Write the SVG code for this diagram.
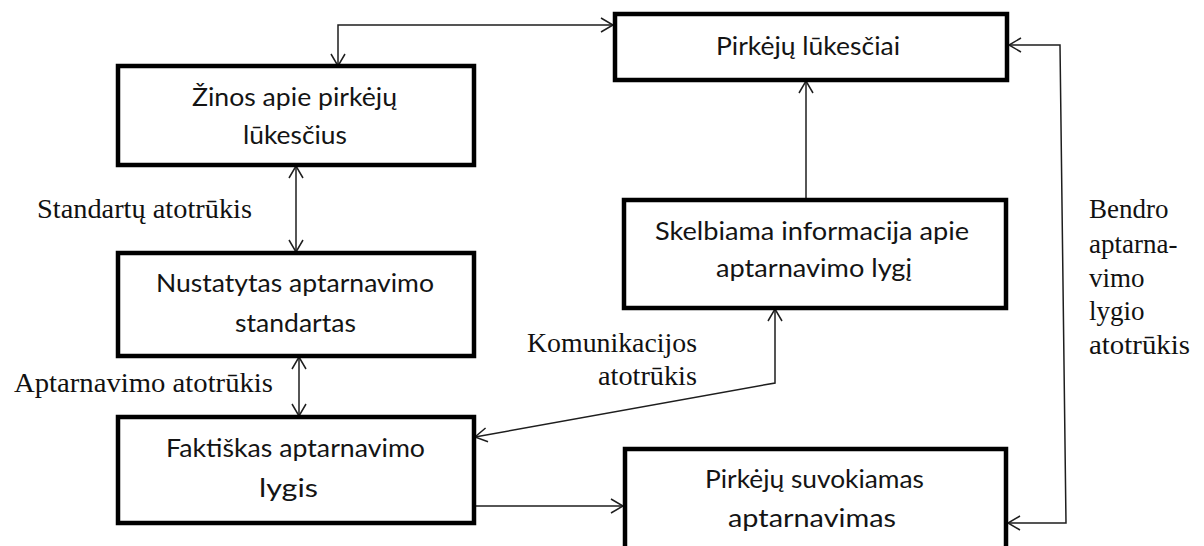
<svg xmlns="http://www.w3.org/2000/svg" width="1204" height="546" viewBox="0 0 1204 546">
  <style>
    .box { fill: #ffffff; stroke: #000000; stroke-width: 4.5; }
    .btxt { font-family: "Lato", "Noto Sans", sans-serif; font-size: 25px; fill: #141414; text-anchor: start; }
    .lbl { font-family: "Liberation Serif", "Times New Roman", serif; font-size: 27px; fill: #111111; }
    .conn { fill: none; stroke: #1e1e1e; stroke-width: 1.5; }
  </style>
  <defs>
    <marker id="arr" markerUnits="userSpaceOnUse" markerWidth="16" markerHeight="18" refX="13" refY="8" orient="auto-start-reverse">
      <path d="M1,1 L13,8 L1,15" fill="none" stroke="#1e1e1e" stroke-width="1.5"/>
    </marker>
  </defs>
  <rect width="1204" height="546" fill="#ffffff"/>

  <!-- connectors -->
  <g id="connectors">
    <path class="conn" d="M338,66 V25 H613" marker-start="url(#arr)" marker-end="url(#arr)"/>
    <path class="conn" d="M296,166 V252" marker-start="url(#arr)" marker-end="url(#arr)"/>
    <path class="conn" d="M299,357 V416" marker-start="url(#arr)" marker-end="url(#arr)"/>
    <path class="conn" d="M806,199 V81" marker-end="url(#arr)"/>
    <path class="conn" d="M475,437 L775,383 V309" marker-start="url(#arr)" marker-end="url(#arr)"/>
    <path class="conn" d="M475,506 H623" marker-end="url(#arr)"/>
    <path class="conn" d="M1008,523 H1066 L1060,45 H1009" marker-start="url(#arr)" marker-end="url(#arr)"/>
  </g>

  <!-- gap labels -->
  <g id="labels">
    <text class="lbl" x="37" y="218" textLength="215" lengthAdjust="spacingAndGlyphs">Standartų atotrūkis</text>
    <text class="lbl" x="14" y="392" textLength="259" lengthAdjust="spacingAndGlyphs">Aptarnavimo atotrūkis</text>
    <text class="lbl" x="527" y="352" textLength="170" lengthAdjust="spacingAndGlyphs">Komunikacijos</text>
    <text class="lbl" x="598" y="385" textLength="99" lengthAdjust="spacingAndGlyphs">atotrūkis</text>
    <text class="lbl" x="1089" y="218">Bendro</text>
    <text class="lbl" x="1089" y="253">aptarna-</text>
    <text class="lbl" x="1089" y="287">vimo</text>
    <text class="lbl" x="1089" y="320">lygio</text>
    <text class="lbl" x="1089" y="354" textLength="101" lengthAdjust="spacingAndGlyphs">atotrūkis</text>
  </g>

  <g id="node-zinos">
    <rect class="box" x="118" y="66" width="356" height="99"/>
    <text class="btxt" x="192" y="106" textLength="205" lengthAdjust="spacingAndGlyphs">Žinos apie pirkėjų</text>
    <text class="btxt" x="243" y="144" textLength="104" lengthAdjust="spacingAndGlyphs">lūkesčius</text>
  </g>

  <g id="node-lukesciai">
    <rect class="box" x="615" y="14" width="392" height="66"/>
    <text class="btxt" x="716" y="55" textLength="184" lengthAdjust="spacingAndGlyphs">Pirkėjų lūkesčiai</text>
  </g>

  <g id="node-standartas">
    <rect class="box" x="118" y="253" width="356" height="103"/>
    <text class="btxt" x="156" y="292" textLength="278" lengthAdjust="spacingAndGlyphs">Nustatytas aptarnavimo</text>
    <text class="btxt" x="235" y="332" textLength="121" lengthAdjust="spacingAndGlyphs">standartas</text>
  </g>

  <g id="node-skelbiama">
    <rect class="box" x="624" y="200" width="382" height="108"/>
    <text class="btxt" x="655" y="240" textLength="314" lengthAdjust="spacingAndGlyphs">Skelbiama informacija apie</text>
    <text class="btxt" x="716" y="277" textLength="196" lengthAdjust="spacingAndGlyphs">aptarnavimo lygį</text>
  </g>

  <g id="node-faktiskas">
    <rect class="box" x="118" y="417" width="356" height="106"/>
    <text class="btxt" x="166" y="457" textLength="259" lengthAdjust="spacingAndGlyphs">Faktiškas aptarnavimo</text>
    <text class="btxt" x="259" y="497" textLength="59" lengthAdjust="spacingAndGlyphs">lygis</text>
  </g>

  <g id="node-suvokiamas">
    <rect class="box" x="625" y="449" width="381" height="120"/>
    <text class="btxt" x="705" y="488" textLength="219" lengthAdjust="spacingAndGlyphs">Pirkėjų suvokiamas</text>
    <text class="btxt" x="728" y="527" textLength="168" lengthAdjust="spacingAndGlyphs">aptarnavimas</text>
  </g>
</svg>
